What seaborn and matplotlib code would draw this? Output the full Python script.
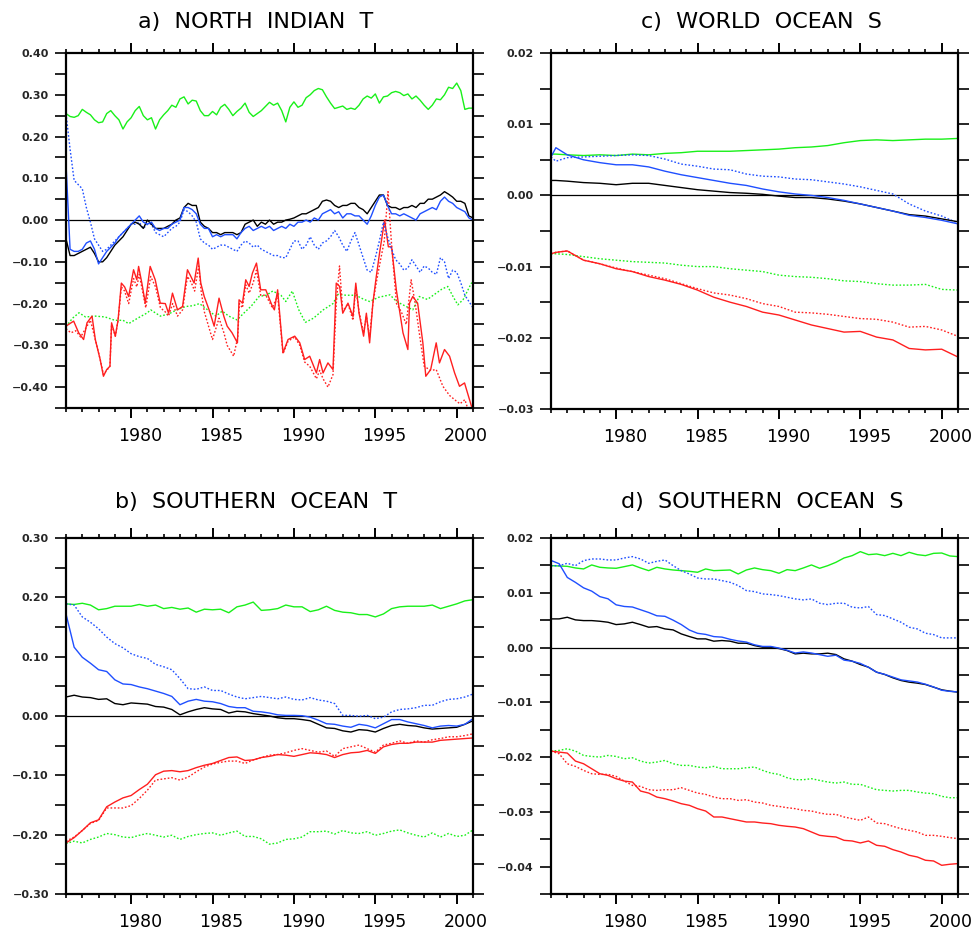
import numpy as np
import pandas as pd
import seaborn as sns
import matplotlib
matplotlib.use("Agg")
import matplotlib.pyplot as plt
from matplotlib.transforms import ScaledTranslation

# ---------------- colours ----------------
GREEN = "#19f019"
BLUE = "#1f4fff"
RED = "#ff1f1f"
BLACK = "#000000"

# ================= panel a) NORTH INDIAN T =================
A_T = np.arange(1976.0, 2001.01, 0.25)  # quarter-year grid (101 points)

A_GREEN = [0.255, 0.248, 0.246, 0.250,
           0.265, 0.258, 0.252, 0.240,
           0.233, 0.235, 0.255, 0.262,
           0.250, 0.240, 0.218, 0.235,
           0.245, 0.262, 0.272, 0.250,
           0.240, 0.245, 0.218, 0.240,
           0.252, 0.262, 0.275, 0.270,
           0.290, 0.295, 0.278, 0.287,
           0.285, 0.262, 0.250, 0.250,
           0.260, 0.252, 0.270, 0.277,
           0.265, 0.250, 0.260, 0.268,
           0.280, 0.258, 0.248, 0.255,
           0.262, 0.272, 0.282, 0.275,
           0.280, 0.262, 0.235, 0.270,
           0.283, 0.270, 0.275, 0.293,
           0.300, 0.310, 0.315, 0.312,
           0.295, 0.280, 0.267, 0.270,
           0.273, 0.265, 0.268, 0.265,
           0.275, 0.290, 0.297, 0.292,
           0.302, 0.280, 0.295, 0.297,
           0.305, 0.308, 0.305, 0.298,
           0.302, 0.290, 0.297, 0.287,
           0.275, 0.265, 0.275, 0.290,
           0.288, 0.300, 0.318, 0.315,
           0.328, 0.310, 0.265, 0.268,
           0.268]

A_BLACK = [-0.045, -0.085, -0.085, -0.080,
           -0.075, -0.070, -0.065, -0.080,
           -0.100, -0.100, -0.090, -0.075,
           -0.060, -0.050, -0.040, -0.025,
           -0.010, -0.005, -0.010, -0.020,
           0.000, -0.010, -0.020, -0.020,
           -0.020, -0.015, -0.010, 0.000,
           0.005, 0.030, 0.040, 0.035,
           0.035, -0.005, -0.015, -0.020,
           -0.030, -0.030, -0.035, -0.030,
           -0.030, -0.030, -0.035, -0.030,
           -0.010, -0.005, 0.000, -0.015,
           -0.005, -0.010, 0.000, -0.010,
           -0.005, -0.005, 0.000, 0.002,
           0.005, 0.010, 0.015, 0.015,
           0.020, 0.025, 0.030, 0.045,
           0.048, 0.045, 0.035, 0.030,
           0.035, 0.035, 0.040, 0.040,
           0.030, 0.025, 0.015, 0.030,
           0.045, 0.060, 0.060, 0.035,
           0.030, 0.030, 0.025, 0.030,
           0.030, 0.035, 0.030, 0.040,
           0.040, 0.050, 0.050, 0.055,
           0.060, 0.068, 0.062, 0.055,
           0.045, 0.045, 0.040, 0.010,
           0.005]

A_BLUE = [0.135, -0.070, -0.075, -0.075,
          -0.070, -0.055, -0.050, -0.070,
          -0.105, -0.090, -0.075, -0.065,
          -0.055, -0.040, -0.030, -0.020,
          -0.010, 0.000, 0.010, -0.005,
          -0.010, -0.005, -0.020, -0.025,
          -0.020, -0.020, -0.010, -0.005,
          0.000, 0.030, 0.030, 0.025,
          0.015, -0.010, -0.020, -0.020,
          -0.040, -0.035, -0.040, -0.035,
          -0.035, -0.035, -0.045, -0.030,
          -0.020, -0.015, -0.025, -0.020,
          -0.015, -0.020, -0.015, -0.025,
          -0.020, -0.015, -0.020, -0.010,
          -0.015, -0.005, -0.005, 0.000,
          -0.005, 0.005, 0.000, 0.015,
          0.020, 0.025, 0.015, 0.020,
          0.005, 0.015, 0.015, 0.010,
          0.010, 0.000, -0.010, 0.010,
          0.035, 0.055, 0.060, 0.035,
          0.015, 0.015, 0.010, 0.015,
          0.010, 0.005, 0.000, 0.015,
          0.020, 0.025, 0.030, 0.025,
          0.045, 0.055, 0.045, 0.040,
          0.030, 0.025, 0.020, 0.005,
          0.000]

A_BLUE_DOT = [0.255, 0.170, 0.095, 0.085,
              0.075, 0.030, -0.005, -0.045,
              -0.060, -0.075, -0.070, -0.060,
              -0.050, -0.040, -0.030, -0.020,
              -0.010, -0.010, -0.005, -0.020,
              -0.010, -0.010, -0.030, -0.035,
              -0.040, -0.030, -0.020, -0.015,
              -0.005, 0.025, 0.020, 0.010,
              -0.005, -0.045, -0.055, -0.060,
              -0.070, -0.065, -0.060, -0.060,
              -0.065, -0.070, -0.075, -0.060,
              -0.050, -0.055, -0.065, -0.060,
              -0.070, -0.075, -0.080, -0.085,
              -0.085, -0.090, -0.090, -0.070,
              -0.050, -0.050, -0.070, -0.060,
              -0.040, -0.060, -0.070, -0.055,
              -0.050, -0.040, -0.025, -0.040,
              -0.060, -0.075, -0.050, -0.030,
              -0.060, -0.090, -0.120, -0.125,
              -0.090, -0.050, -0.005, -0.040,
              -0.070, -0.095, -0.105, -0.120,
              -0.115, -0.095, -0.110, -0.125,
              -0.110, -0.115, -0.125, -0.130,
              -0.090, -0.100, -0.140, -0.120,
              -0.125, -0.150, -0.180, -0.195,
              -0.210]

A_RED_T = [1976.0, 1976.47, 1976.78, 1977.08, 1977.29, 1977.6, 1977.8, 1978.1,
           1978.3, 1978.5, 1978.7, 1978.8, 1979.03, 1979.2, 1979.4, 1979.6,
           1979.85, 1980.15, 1980.35, 1980.46, 1980.66, 1980.87, 1981.17, 1981.48,
           1981.79, 1982.1, 1982.3, 1982.54, 1982.85, 1983.16, 1983.46, 1983.67,
           1983.87, 1984.12, 1984.28, 1984.49, 1984.79, 1985.1, 1985.4, 1985.7,
           1985.9, 1986.2, 1986.53, 1986.63, 1986.84, 1987.04, 1987.25, 1987.45,
           1987.7, 1987.96, 1988.27, 1988.68, 1988.8, 1989.0, 1989.33, 1989.64,
           1990.05, 1990.36, 1990.66, 1990.97, 1991.38, 1991.58, 1991.79, 1992.09,
           1992.4, 1992.6, 1992.81, 1993.0, 1993.32, 1993.63, 1993.8, 1994.0,
           1994.28, 1994.45, 1994.65, 1994.85, 1995.06, 1995.26, 1995.57, 1995.8,
           1996.0, 1996.29, 1996.7, 1997.0, 1997.1, 1997.3, 1997.6, 1997.92,
           1998.1, 1998.4, 1998.74, 1998.94, 1999.25, 1999.56, 1999.87, 2000.17,
           2000.48, 2000.9, 2001.0]
A_RED = [-0.254, -0.242, -0.270, -0.286, -0.246, -0.230, -0.286, -0.334,
         -0.374, -0.358, -0.350, -0.246, -0.278, -0.239, -0.151, -0.160,
         -0.183, -0.119, -0.143, -0.111, -0.151, -0.199, -0.111, -0.143,
         -0.199, -0.200, -0.223, -0.175, -0.215, -0.207, -0.119, -0.135,
         -0.151, -0.091, -0.151, -0.183, -0.215, -0.254, -0.187, -0.231,
         -0.254, -0.270, -0.294, -0.191, -0.199, -0.143, -0.159, -0.127,
         -0.103, -0.167, -0.167, -0.207, -0.215, -0.167, -0.318, -0.286,
         -0.278, -0.294, -0.334, -0.326, -0.366, -0.334, -0.366, -0.342,
         -0.358, -0.151, -0.159, -0.223, -0.199, -0.231, -0.151, -0.223,
         -0.278, -0.223, -0.294, -0.199, -0.135, -0.079, 0.000, -0.064,
         -0.064, -0.167, -0.270, -0.310, -0.199, -0.183, -0.199, -0.294,
         -0.374, -0.358, -0.294, -0.342, -0.310, -0.326, -0.366, -0.398,
         -0.390, -0.445, -0.450]

A_RED_DOT_T = [1976.0, 1976.3, 1976.6, 1976.9, 1977.2, 1977.5, 1977.8, 1978.1,
               1978.3, 1978.5, 1978.7, 1978.8, 1979.03, 1979.2, 1979.4, 1979.6,
               1979.85, 1980.15, 1980.35, 1980.5, 1980.7, 1980.9, 1981.2, 1981.5,
               1981.8, 1982.1, 1982.3, 1982.55, 1982.85, 1983.16, 1983.46, 1983.7,
               1983.9, 1984.15, 1984.3, 1984.5, 1984.8, 1985.0, 1985.4, 1985.7,
               1985.9, 1986.3, 1986.55, 1986.65, 1986.84, 1987.04, 1987.25, 1987.5,
               1987.7, 1987.96, 1988.27, 1988.68, 1989.0, 1989.33, 1989.64, 1990.05,
               1990.36, 1990.66, 1990.97, 1991.38, 1991.58, 1991.79, 1992.09, 1992.4,
               1992.6, 1992.8, 1993.0, 1993.32, 1993.63, 1993.8, 1994.0, 1994.28,
               1994.45, 1994.65, 1994.85, 1995.06, 1995.3, 1995.55, 1995.78, 1996.0,
               1996.3, 1996.6, 1996.9, 1997.2, 1997.45, 1997.7, 1998.0, 1998.4,
               1998.74, 1999.15, 1999.56, 1999.87, 2000.2, 2000.5, 2000.75, 2001.0]
A_RED_DOT = [-0.260, -0.270, -0.265, -0.280, -0.260, -0.240, -0.286, -0.334,
             -0.370, -0.360, -0.350, -0.250, -0.278, -0.240, -0.160, -0.170,
             -0.200, -0.140, -0.160, -0.130, -0.170, -0.210, -0.135, -0.160,
             -0.210, -0.220, -0.230, -0.200, -0.230, -0.215, -0.135, -0.150,
             -0.170, -0.110, -0.170, -0.220, -0.260, -0.286, -0.235, -0.270,
             -0.300, -0.326, -0.280, -0.200, -0.210, -0.155, -0.175, -0.150,
             -0.120, -0.180, -0.180, -0.210, -0.180, -0.320, -0.290, -0.280,
             -0.300, -0.340, -0.350, -0.380, -0.360, -0.380, -0.400, -0.370,
             -0.200, -0.110, -0.220, -0.200, -0.240, -0.160, -0.220, -0.270,
             -0.230, -0.280, -0.200, -0.150, -0.100, -0.050, 0.068, -0.060,
             -0.200, -0.220, -0.250, -0.143, -0.200, -0.270, -0.350, -0.360,
             -0.358, -0.398, -0.420, -0.430, -0.440, -0.430, -0.460, -0.470]

A_GREEN_DOT_T = [1976.0, 1976.4, 1976.8, 1977.2, 1977.8, 1978.4, 1979.0, 1979.5,
                 1979.85, 1980.4, 1981.0, 1981.2, 1981.8, 1982.3, 1982.8, 1983.36,
                 1983.8, 1984.2, 1984.7, 1985.2, 1985.6, 1986.0, 1986.5, 1987.0,
                 1987.4, 1987.86, 1988.3, 1988.7, 1989.2, 1989.5, 1989.9, 1990.3,
                 1990.7, 1991.2, 1991.8, 1992.4, 1992.7, 1993.2, 1993.8, 1994.3,
                 1994.65, 1995.2, 1995.9, 1996.3, 1996.9, 1997.3, 1997.7, 1998.2,
                 1998.74, 1999.1, 1999.45, 1999.8, 2000.07, 2000.4, 2000.9, 2001.0]
A_GREEN_DOT = [-0.255, -0.235, -0.222, -0.232, -0.230, -0.232, -0.240, -0.240,
               -0.248, -0.235, -0.222, -0.215, -0.230, -0.225, -0.215, -0.207,
               -0.205, -0.200, -0.215, -0.230, -0.218, -0.230, -0.239, -0.220,
               -0.205, -0.183, -0.180, -0.170, -0.180, -0.195, -0.170, -0.215,
               -0.245, -0.235, -0.215, -0.200, -0.178, -0.180, -0.180, -0.190,
               -0.195, -0.185, -0.179, -0.195, -0.207, -0.215, -0.183, -0.190,
               -0.175, -0.165, -0.159, -0.185, -0.203, -0.190, -0.151, -0.150]

# ================= panel b) SOUTHERN OCEAN T =================
B_T = np.arange(1976.0, 2001.01, 0.5)  # half-year grid (51 points)

B_GREEN = [0.189, 0.188, 0.190, 0.187, 0.179, 0.181, 0.185, 0.185, 0.185, 0.188,
           0.185, 0.187, 0.181, 0.183, 0.180, 0.182, 0.175, 0.180, 0.179, 0.180,
           0.174, 0.184, 0.187, 0.192, 0.178, 0.179, 0.181, 0.187, 0.184, 0.184,
           0.176, 0.179, 0.185, 0.178, 0.175, 0.174, 0.171, 0.171, 0.167, 0.172,
           0.181, 0.184, 0.185, 0.185, 0.185, 0.187, 0.181, 0.185, 0.189, 0.194,
           0.196]
B_BLACK = [0.032, 0.035, 0.032, 0.031, 0.028, 0.029, 0.021, 0.019, 0.022, 0.021,
           0.020, 0.016, 0.015, 0.011, 0.002, 0.007, 0.011, 0.014, 0.012, 0.011,
           0.005, 0.008, 0.007, 0.004, 0.002, 0.000, -0.003, -0.0045, -0.0045, -0.006,
           -0.008, -0.014, -0.020, -0.021, -0.025, -0.027, -0.023, -0.024, -0.027, -0.021,
           -0.016, -0.014, -0.016, -0.017, -0.020, -0.022, -0.021, -0.020, -0.019, -0.014,
           -0.008]
B_BLUE = [0.172, 0.116, 0.099, 0.089, 0.078, 0.075, 0.061, 0.054, 0.053, 0.049,
          0.046, 0.042, 0.038, 0.033, 0.019, 0.025, 0.028, 0.025, 0.024, 0.021,
          0.016, 0.014, 0.014, 0.008, 0.007, 0.005, 0.002, 0.001, 0.001, 0.0005,
          -0.002, -0.007, -0.013, -0.014, -0.017, -0.019, -0.014, -0.016, -0.020, -0.013,
          -0.006, -0.006, -0.010, -0.013, -0.016, -0.020, -0.017, -0.016, -0.017, -0.014,
          -0.0045]
B_BLUE_DOT = [0.189, 0.187, 0.167, 0.158, 0.147, 0.133, 0.122, 0.115, 0.105, 0.100,
              0.097, 0.087, 0.083, 0.078, 0.063, 0.046, 0.045, 0.049, 0.043, 0.043,
              0.037, 0.032, 0.029, 0.031, 0.033, 0.031, 0.029, 0.032, 0.028, 0.027,
              0.031, 0.027, 0.025, 0.021, 0.001, 0.001, -0.0005, 0.001, -0.0045, -0.002,
              0.007, 0.011, 0.012, 0.014, 0.018, 0.018, 0.024, 0.028, 0.029, 0.032,
              0.037]
B_RED = [-0.214, -0.205, -0.193, -0.180, -0.175, -0.153, -0.145, -0.138, -0.134, -0.124,
         -0.115, -0.099, -0.093, -0.092, -0.094, -0.092, -0.087, -0.083, -0.080, -0.075,
         -0.070, -0.069, -0.075, -0.074, -0.070, -0.068, -0.065, -0.066, -0.068, -0.065,
         -0.062, -0.063, -0.065, -0.070, -0.065, -0.062, -0.061, -0.058, -0.063, -0.052,
         -0.048, -0.046, -0.046, -0.044, -0.044, -0.044, -0.041, -0.040, -0.039, -0.038,
         -0.037]
B_RED_DOT = [-0.211, -0.204, -0.193, -0.181, -0.176, -0.155, -0.155, -0.155, -0.151, -0.139,
             -0.125, -0.108, -0.106, -0.104, -0.108, -0.103, -0.094, -0.086, -0.081, -0.078,
             -0.076, -0.076, -0.080, -0.074, -0.070, -0.066, -0.065, -0.062, -0.058, -0.055,
             -0.058, -0.061, -0.059, -0.068, -0.055, -0.052, -0.049, -0.055, -0.061, -0.049,
             -0.046, -0.042, -0.046, -0.042, -0.044, -0.040, -0.038, -0.035, -0.035, -0.033,
             -0.030]
B_GREEN_DOT = [-0.215, -0.211, -0.214, -0.208, -0.204, -0.198, -0.200, -0.204, -0.205, -0.201,
               -0.198, -0.201, -0.204, -0.201, -0.208, -0.203, -0.200, -0.198, -0.197, -0.201,
               -0.197, -0.194, -0.203, -0.203, -0.207, -0.216, -0.214, -0.208, -0.207, -0.204,
               -0.195, -0.195, -0.194, -0.199, -0.193, -0.197, -0.198, -0.195, -0.201, -0.198,
               -0.194, -0.192, -0.197, -0.201, -0.204, -0.197, -0.204, -0.198, -0.203, -0.201,
               -0.192]

# ================= panel c) WORLD OCEAN S =================
C_T = [1976.0, 1976.3, 1977, 1978, 1979, 1980, 1981, 1982, 1983, 1984, 1985, 1986, 1987,
       1988, 1989, 1990, 1991, 1992, 1993, 1994, 1995, 1996, 1997, 1998, 1999, 2000, 2001]
C_GREEN = [0.0058, 0.0058, 0.0057, 0.0056, 0.0057, 0.0056, 0.0058, 0.0057, 0.0059, 0.0060,
           0.0062, 0.0062, 0.0062, 0.0063, 0.0064, 0.0065, 0.0067, 0.0068, 0.0070, 0.0074,
           0.0077, 0.0078, 0.0077, 0.0078, 0.0079, 0.0079, 0.0080]
C_BLACK = [0.0021, 0.0021, 0.0020, 0.0018, 0.0017, 0.0015, 0.0017, 0.0017, 0.0014, 0.0011,
           0.0008, 0.0006, 0.0004, 0.0003, 0.00015, -0.0001, -0.0003, -0.0003, -0.0005, -0.0008,
           -0.0012, -0.0017, -0.0022, -0.0027, -0.0029, -0.0033, -0.0037]
C_BLUE = [0.0054, 0.0067, 0.0057, 0.0050, 0.0046, 0.0043, 0.0043, 0.0040, 0.0034, 0.0029,
          0.0025, 0.0021, 0.0017, 0.0014, 0.0009, 0.0005, 0.0002, 0.0000, -0.0003, -0.0007,
          -0.0012, -0.0017, -0.0022, -0.0028, -0.0031, -0.0035, -0.0040]
C_BLUE_DOT = [0.0054, 0.0048, 0.0053, 0.0054, 0.0055, 0.0056, 0.0057, 0.0056, 0.0051, 0.0044,
              0.0041, 0.0037, 0.0036, 0.0030, 0.0027, 0.0026, 0.0023, 0.0022, 0.0019, 0.0016,
              0.0012, 0.0007, 0.0002, -0.0012, -0.0022, -0.0029, -0.0039]
C_GREEN_DOT = [-0.0082, -0.0082, -0.0083, -0.0086, -0.0089, -0.0091, -0.0093, -0.0094, -0.0095, -0.0098,
               -0.0100, -0.0100, -0.0103, -0.0105, -0.0107, -0.0112, -0.0114, -0.0115, -0.0117, -0.0120,
               -0.0121, -0.0124, -0.0126, -0.0126, -0.0125, -0.0132, -0.0133]
C_RED = [-0.0082, -0.0080, -0.0078, -0.0091, -0.0096, -0.0103, -0.0107, -0.0114, -0.0119, -0.0125,
         -0.0133, -0.0143, -0.0150, -0.0156, -0.0164, -0.0168, -0.0175, -0.0182, -0.0187, -0.0192,
         -0.0191, -0.0199, -0.0203, -0.0215, -0.0217, -0.0216, -0.0227]
C_RED_DOT = [-0.0082, -0.0080, -0.0078, -0.0091, -0.0096, -0.0102, -0.0107, -0.0112, -0.0117, -0.0124,
             -0.0131, -0.0137, -0.0140, -0.0145, -0.0152, -0.0156, -0.0164, -0.0165, -0.0167, -0.0170,
             -0.0173, -0.0174, -0.0178, -0.0185, -0.0184, -0.0189, -0.0198]

# ================= panel d) SOUTHERN OCEAN S =================
D_T = np.arange(1976.0, 2001.01, 0.5)  # half-year grid (51 points)

D_GREEN = [0.01495, 0.01489, 0.01483, 0.01453, 0.01435, 0.01508, 0.01465, 0.01453, 0.01447, 0.01477,
           0.01508, 0.01453, 0.01404, 0.01465, 0.01435, 0.01416, 0.01404, 0.01392, 0.01374, 0.01435,
           0.01404, 0.01410, 0.01416, 0.01343, 0.01416, 0.01453, 0.01422, 0.01404, 0.01356, 0.01422,
           0.01404, 0.01453, 0.01508, 0.01447, 0.01495, 0.01556, 0.01635, 0.01678, 0.01751, 0.01696,
           0.01708, 0.01678, 0.01720, 0.01678, 0.01739, 0.01696, 0.01678, 0.01720, 0.01726, 0.01672,
           0.01660]
D_BLACK = [0.00523, 0.00523, 0.00553, 0.00505, 0.00492, 0.00492, 0.00480, 0.00462, 0.00419, 0.00432,
           0.00462, 0.00419, 0.00371, 0.00383, 0.00340, 0.00322, 0.00249, 0.00201, 0.00158, 0.00158,
           0.00116, 0.00128, 0.00116, 0.00079, 0.00079, 0.00036, 0.00006, 0.00006, -0.00018, -0.00055,
           -0.00116, -0.00103, -0.00116, -0.00116, -0.00103, -0.00128, -0.00207, -0.00249, -0.00310, -0.00359,
           -0.00450, -0.00492, -0.00553, -0.00602, -0.00632, -0.00650, -0.00675, -0.00723, -0.00772, -0.00796,
           -0.00815]
D_BLUE = [0.0159, 0.0153, 0.0128, 0.0119, 0.0109, 0.0103, 0.0093, 0.0089, 0.0078, 0.0075,
          0.0074, 0.0069, 0.0064, 0.0058, 0.0057, 0.0050, 0.0042, 0.0032, 0.0026, 0.0024,
          0.0020, 0.0019, 0.0015, 0.0012, 0.0010, 0.0005, 0.0002, 0.0002, -0.0001, -0.0005,
          -0.0010, -0.0008, -0.0010, -0.0013, -0.0016, -0.0014, -0.0023, -0.0025, -0.0029, -0.0036,
          -0.0045, -0.0049, -0.0054, -0.0059, -0.0061, -0.0063, -0.0067, -0.0072, -0.0078, -0.0080,
          -0.0081]
D_BLUE_DOT = [0.01495, 0.01495, 0.01538, 0.01495, 0.01587, 0.01617, 0.01617, 0.01599, 0.01599, 0.01635,
              0.01660, 0.01617, 0.01538, 0.01574, 0.01599, 0.01495, 0.01404, 0.01343, 0.01270, 0.01252,
              0.01252, 0.01222, 0.01191, 0.01131, 0.01040, 0.01021, 0.00979, 0.00967, 0.00948, 0.00918,
              0.00888, 0.00870, 0.00888, 0.00809, 0.00784, 0.00809, 0.00809, 0.00736, 0.00723, 0.00748,
              0.00602, 0.00584, 0.00523, 0.00462, 0.00371, 0.00340, 0.00261, 0.00237, 0.00176, 0.00176,
              0.00176]
D_GREEN_DOT = [-0.01891, -0.01878, -0.01848, -0.01891, -0.01970, -0.01988, -0.02000, -0.01970, -0.01988, -0.02030,
               -0.02012, -0.02073, -0.02109, -0.02091, -0.02061, -0.02122, -0.02152, -0.02152, -0.02182, -0.02195,
               -0.02170, -0.02213, -0.02213, -0.02213, -0.02195, -0.02182, -0.02243, -0.02292, -0.02316, -0.02377,
               -0.02413, -0.02413, -0.02395, -0.02426, -0.02456, -0.02474, -0.02456, -0.02498, -0.02498, -0.02547,
               -0.02596, -0.02608, -0.02620, -0.02608, -0.02608, -0.02638, -0.02657, -0.02669, -0.02717, -0.02742,
               -0.02742]
D_RED = [-0.01891, -0.01909, -0.01927, -0.02073, -0.02122, -0.02213, -0.02304, -0.02334, -0.02395, -0.02438,
         -0.02456, -0.02620, -0.02657, -0.02730, -0.02760, -0.02802, -0.02851, -0.02881, -0.02942, -0.02985,
         -0.03094, -0.03094, -0.03125, -0.03155, -0.03185, -0.03185, -0.03204, -0.03216, -0.03246, -0.03264,
         -0.03277, -0.03307, -0.03368, -0.03429, -0.03447, -0.03459, -0.03520, -0.03532, -0.03568, -0.03532,
         -0.03611, -0.03629, -0.03690, -0.03733, -0.03793, -0.03824, -0.03884, -0.03897, -0.03976, -0.03957,
         -0.03945]
D_RED_DOT = [-0.01891, -0.01939, -0.02122, -0.02170, -0.02243, -0.02304, -0.02316, -0.02316, -0.02353, -0.02438,
             -0.02517, -0.02535, -0.02596, -0.02608, -0.02596, -0.02596, -0.02559, -0.02608, -0.02657, -0.02681,
             -0.02730, -0.02760, -0.02760, -0.02791, -0.02778, -0.02821, -0.02839, -0.02881, -0.02900, -0.02924,
             -0.02942, -0.02973, -0.02985, -0.03021, -0.03046, -0.03046, -0.03094, -0.03125, -0.03155, -0.03094,
             -0.03204, -0.03216, -0.03264, -0.03307, -0.03337, -0.03368, -0.03429, -0.03429, -0.03447, -0.03471,
             -0.03489]

YEAR_TICKS = [1980, 1985, 1990, 1995, 2000]
YEAR_LABELS = ["1980", "1985", "1990", "1995", "2000"]

# ---------------- drawing ----------------
sns.set_style("white")
plt.rcParams["font.family"] = ["DejaVu Sans"]
plt.rcParams["lines.solid_capstyle"] = "butt"

W, H = 975, 931
fig = plt.figure(figsize=(W / 100, H / 100), dpi=100)
fig.patch.set_facecolor("white")

DOT = (0, (1.2, 1.4))
LW = 1.0


def frame(x0, y0, x1, y1):
    return [x0 / W, 1 - y1 / H, (x1 - x0) / W, (y1 - y0) / H]


def fmt_label(v, dec):
    s = f"{abs(v):.{dec}f}"
    if v < -1e-12:
        s = "\u2212" + s
    return s


def panel(rect, title, title_xy, series, ylim, ystep, lab_every, dec):
    ax = fig.add_axes(rect)
    ax.set_facecolor("white")
    ax.axhline(0.0, color=BLACK, lw=0.9, zorder=1)
    for t, v, col, ls in series:
        df = pd.DataFrame({"year": np.asarray(t, float), "value": np.asarray(v, float)})
        sns.lineplot(data=df, x="year", y="value", color=col, linestyle=ls, lw=LW,
                     estimator=None, sort=False, ax=ax, zorder=2)
    ax.set_xlim(1976, 2001)
    ax.set_ylim(*ylim)
    ax.set_xlabel("")
    ax.set_ylabel("")

    # x ticks
    ax.set_xticks(YEAR_TICKS, YEAR_LABELS, fontsize=12.5)
    ax.set_xticks(np.arange(1976, 2002, 1), minor=True)
    ax.tick_params(axis="x", which="major", direction="out", length=7.5, width=1.4,
                   top=True, bottom=True, pad=6, colors=BLACK)
    ax.tick_params(axis="x", which="minor", direction="out", length=3.2, width=1.4,
                   top=True, bottom=True)
    shift = ScaledTranslation(0.09, 0, fig.dpi_scale_trans)
    for tk in ax.xaxis.get_major_ticks():
        tk.label1.set_transform(tk.label1.get_transform() + shift)

    # y ticks
    n = int(round((ylim[1] - ylim[0]) / ystep))
    yt = [round(ylim[0] + i * ystep, 6) for i in range(n + 1)]
    labels = []
    for y in yt:
        k = round(y / ystep)
        labels.append(fmt_label(y, dec) if k % lab_every == 0 else "")
    ax.set_yticks(yt, labels, fontsize=8, fontweight="bold")
    ax.tick_params(axis="y", which="major", direction="out", length=7.8, width=1.4,
                   left=True, right=True, pad=4.5)

    for sp in ax.spines.values():
        sp.set_visible(True)
        sp.set_color(BLACK)
        sp.set_linewidth(1.6)

    fig.text(title_xy[0] / W, 1 - title_xy[1] / H, title, ha="center", va="center",
             fontsize=16, fontweight="normal", color=BLACK)
    return ax


panel(frame(66, 53, 473, 408), "a)  NORTH  INDIAN  T", (256, 22),
      [(A_T, A_GREEN, GREEN, "-"),
       (A_GREEN_DOT_T, A_GREEN_DOT, GREEN, DOT),
       (A_RED_DOT_T, A_RED_DOT, RED, DOT),
       (A_RED_T, A_RED, RED, "-"),
       (A_T, A_BLUE_DOT, BLUE, DOT),
       (A_T, A_BLACK, BLACK, "-"),
       (A_T, A_BLUE, BLUE, "-")],
      (-0.45, 0.40), 0.05, 2, 2)

panel(frame(551, 53, 958, 409), "c)  WORLD  OCEAN  S", (761, 22),
      [(C_T, C_GREEN, GREEN, "-"),
       (C_T, C_GREEN_DOT, GREEN, DOT),
       (C_T, C_RED_DOT, RED, DOT),
       (C_T, C_RED, RED, "-"),
       (C_T, C_BLUE_DOT, BLUE, DOT),
       (C_T, C_BLACK, BLACK, "-"),
       (C_T, C_BLUE, BLUE, "-")],
      (-0.03, 0.02), 0.005, 2, 2)

panel(frame(66, 538, 473, 894), "b)  SOUTHERN  OCEAN  T", (256, 502),
      [(B_T, B_GREEN, GREEN, "-"),
       (B_T, B_GREEN_DOT, GREEN, DOT),
       (B_T, B_RED_DOT, RED, DOT),
       (B_T, B_RED, RED, "-"),
       (B_T, B_BLUE_DOT, BLUE, DOT),
       (B_T, B_BLACK, BLACK, "-"),
       (B_T, B_BLUE, BLUE, "-")],
      (-0.30, 0.30), 0.05, 2, 2)

panel(frame(551, 538, 958, 894), "d)  SOUTHERN  OCEAN  S", (762, 502),
      [(D_T, D_GREEN, GREEN, "-"),
       (D_T, D_GREEN_DOT, GREEN, DOT),
       (D_T, D_RED_DOT, RED, DOT),
       (D_T, D_RED, RED, "-"),
       (D_T, D_BLUE_DOT, BLUE, DOT),
       (D_T, D_BLACK, BLACK, "-"),
       (D_T, D_BLUE, BLUE, "-")],
      (-0.045, 0.02), 0.005, 2, 2)

fig.savefig("out.png", dpi=100, facecolor="white")
